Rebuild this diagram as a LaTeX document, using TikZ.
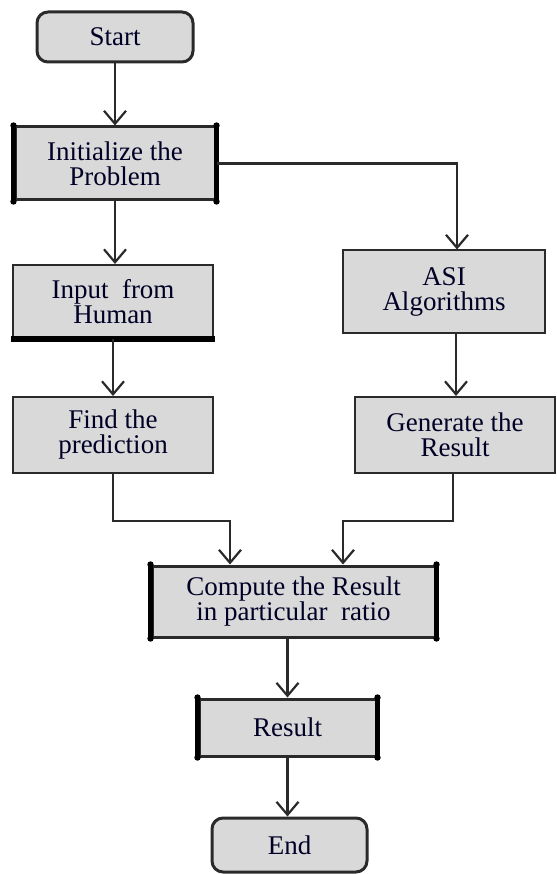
\documentclass[tikz,border=0pt]{standalone}
\usepackage{fontspec}
\setmainfont{Liberation Serif}
\newfontfamily\tnr{Liberation Serif}
\usetikzlibrary{arrows.meta}
\definecolor{boxfill}{HTML}{D9D9D9}
\definecolor{lnc}{HTML}{2A2A2A}
\begin{document}
\begin{tikzpicture}[x=1pt,y=-1pt,
  box/.style={draw=lnc, line width=2pt, fill=boxfill, align=center, inner sep=0pt,
    font=\tnr\fontsize{27}{25}\selectfont, text=black!85!blue},
  term/.style={box, line width=3pt, rounded corners=11pt},
  arr/.style={draw=lnc, line width=2.2pt, -{Straight Barb[length=13pt,width=22pt,line width=2.2pt]}},
  thickside/.style={draw=black, line width=5.5pt},
  corner/.style={fill=black}
]
\useasboundingbox (0,0) rectangle (556,874);

\node[term, minimum width=156pt, minimum height=50pt] (start) at (115,37) {Start};
\node[box, line width=3pt, minimum width=200pt, minimum height=73pt] (init) at (115,163.5) {Initialize the\\Problem};
\node[box, minimum width=200pt, minimum height=73pt] (input) at (113,301.5) {Input~ from\\Human};
\node[box, minimum width=200pt, minimum height=76pt] (find) at (113,435) {Find the\\prediction};
\node[box, minimum width=202pt, minimum height=82pt] (asi) at (444,291.5) {ASI\\Algorithms};
\node[box, minimum width=200pt, minimum height=76pt] (gen) at (455,435) {Generate the\\Result};
\node[box, line width=3pt, minimum width=283pt, minimum height=71pt] (comp) at (293.5,601.5) {Compute the Result\\in particular~ ratio};
\node[box, line width=3pt, minimum width=177pt, minimum height=57pt] (res) at (287.5,727.5) {Result};
\node[term, minimum width=155pt, minimum height=54pt] (end) at (289.5,845) {End};

% emphasised sides
\foreach \n in {init,comp,res}{
  \draw[thickside] (\n.north west) -- (\n.south west);
  \draw[thickside] (\n.north east) -- (\n.south east);
  \foreach \c in {north west,north east,south west,south east}
    \fill[corner] (\n.\c) circle (3.2pt);
}
\draw[thickside] ([xshift=-1pt]input.south west) -- ([xshift=1pt]input.south east);

% connectors
\draw[arr] (start.south) -- (start.south |- init.north);
\draw[arr] (init.south) -- (init.south |- input.north);
\draw[arr] (init.east) -| ([xshift=13pt]asi.north);
\draw[arr] (input.south) -- (find.north);
\draw[arr] ([xshift=12pt]asi.south) -- ([xshift=12pt]asi.south |- gen.north);
\draw[arr] (find.south) -- ++(0,47) -| ([xshift=-63.5pt]comp.north);
\draw[arr] ([xshift=-2pt]gen.south) -- ++(0,47) -| ([xshift=49.5pt]comp.north);
\draw[arr] (res.north |- comp.south) -- (res.north);
\draw[arr] (res.south) -- (res.south |- end.north);
\end{tikzpicture}
\end{document}
